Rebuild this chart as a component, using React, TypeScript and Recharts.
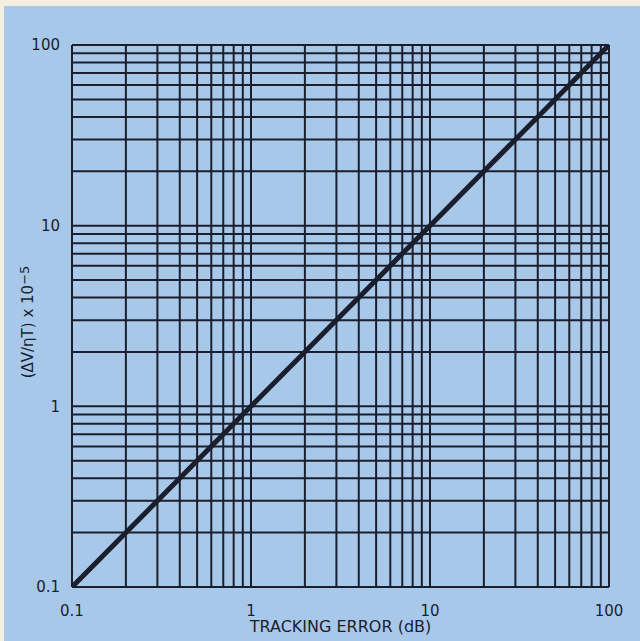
import React from 'react';
import { LineChart, Line, XAxis, YAxis, CartesianGrid } from 'recharts';

// tracking error (dB) vs (dV/nT) x 10^-5, straight line on log-log
const trackingError = [0.1, 1, 10, 100];
const deltaV = [0.1, 1, 10, 100];

// log grid lines (1..9 in every decade)
const gridTicks = [
  0.1, 0.2, 0.3, 0.4, 0.5, 0.6, 0.7, 0.8, 0.9,
  1, 2, 3, 4, 5, 6, 7, 8, 9,
  10, 20, 30, 40, 50, 60, 70, 80, 90,
  100,
];
const labelTicks = [0.1, 1, 10, 100];

const data = trackingError.map((x, i) => ({ x, y: deltaV[i] }));

const ink = '#1b1e2c';
const font = '"DejaVu Sans", sans-serif';

const fmt = (v: number) => (labelTicks.includes(v) ? String(v) : '');

const YLabel = () => (
  <text
    x={28}
    y={322}
    transform="rotate(-90 28 322)"
    textAnchor="middle"
    dominantBaseline="central"
    fontFamily={font}
    fontSize={15}
    fill={ink}
  >
    (ΔV/ηT) x 10
    <tspan dy={-4} fontSize={13}>−5</tspan>
  </text>
);

const App = () => {
  return (
    <div style={{ position: 'absolute', left: 0, top: 0, width: 640, height: 641, background: '#f3eee0' }}>
      <div style={{ position: 'absolute', left: 4, top: 6, width: 636, height: 635, background: '#a8c8ea' }} />
      <div style={{ position: 'absolute', left: 0, top: 0 }}>
        <LineChart width={640} height={641} data={data} margin={{ top: 45, right: 31, bottom: 14, left: 12 }}>
          <CartesianGrid stroke={ink} strokeWidth={2} ticks={gridTicks} />
          <XAxis
            dataKey="x"
            type="number"
            scale="log"
            domain={[0.1, 100]}
            ticks={gridTicks}
            interval={0}
            tickFormatter={fmt}
            allowDataOverflow
            height={40}
            tickSize={0}
            tickMargin={18}
            axisLine={{ stroke: ink, strokeWidth: 2 }}
            tick={{ fill: ink, fontSize: 15, fontFamily: font }}
            label={{ value: 'TRACKING ERROR (dB)', position: 'insideBottom', offset: -5, fill: ink, fontSize: 16, fontFamily: font }}
          />
          <YAxis
            dataKey="y"
            type="number"
            scale="log"
            domain={[0.1, 100]}
            ticks={gridTicks}
            interval={0}
            tickFormatter={fmt}
            allowDataOverflow
            width={60}
            tickSize={0}
            tickMargin={12}
            axisLine={{ stroke: ink, strokeWidth: 2 }}
            tick={{ fill: ink, fontSize: 15, fontFamily: font }}
            label={<YLabel />}
          />
          <Line
            dataKey="y"
            type="linear"
            stroke={ink}
            strokeWidth={5}
            dot={false}
            isAnimationActive={false}
          />
        </LineChart>
      </div>
    </div>
  );
};

export default App;
